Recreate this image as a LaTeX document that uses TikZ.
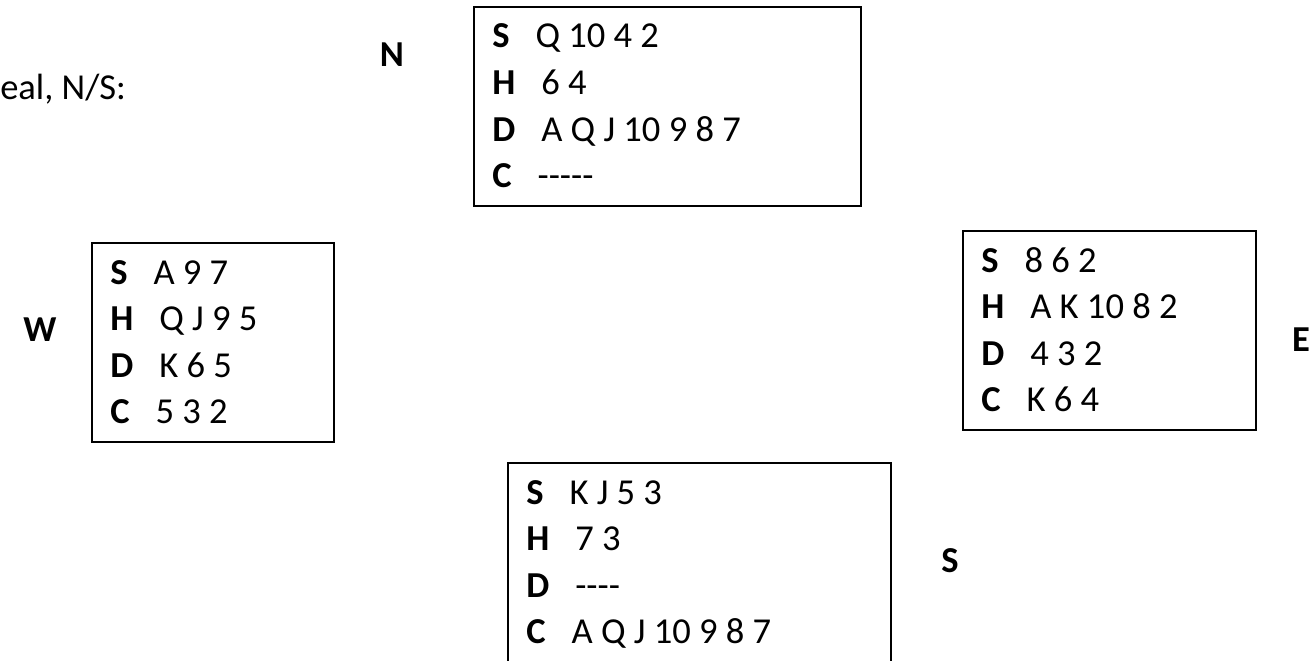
\documentclass[tikz,border=0pt]{standalone}
\usepackage{fontspec}
\setmainfont{Carlito}
\usetikzlibrary{calc}

\tikzset{
  handbox/.style={draw, line width=1.5pt, rectangle, inner sep=0pt, anchor=north west},
  cardline/.style={anchor=base west, inner sep=0pt, font=\fontsize{27.4pt}{34.5pt}\selectfont},
  seatlabel/.style={anchor=base, inner sep=0pt, font=\fontsize{27.4pt}{34.5pt}\selectfont\bfseries},
  plaintext/.style={anchor=base west, inner sep=0pt, font=\fontsize{27.4pt}{34.5pt}\selectfont},
}
% bold suit letter followed by a fixed gap before the cards
\newcommand\suitrow[1]{\textbf{#1}\hspace{19.5pt}}
% a run of separate hyphens (kept apart so they never join into dashes)
\newcommand\voidsuit[1]{\foreach \k in {1,...,#1}{\mbox{-}}}

% four suit lines inside a hand box
\newcommand\handlines[5]{%
  \node[cardline] (#1S) at ($(#1box.north west)+(19,42)$) {\suitrow{S}#2};
  \node[cardline] (#1H) at ($(#1S.base west)+(0,46.5)$) {\suitrow{H}#3};
  \node[cardline] (#1D) at ($(#1H.base west)+(0,46.5)$) {\suitrow{D}#4};
  \node[cardline] (#1C) at ($(#1D.base west)+(0,46.5)$) {\suitrow{C}#5};
}

\begin{document}
\begin{tikzpicture}[x=0.75pt,y=-0.75pt]
\useasboundingbox (0,0) rectangle (1312,660);
\fill[white] (0,0) rectangle (1312,660);

% heading
\node[plaintext] (deal) at (0,99) {eal, N/S:};

% seat labels
\node[seatlabel] (lblN) at (392,66) {N};
\node[seatlabel] (lblW) at (40,341) {W};
\node[seatlabel] (lblE) at (1301,351) {E};
\node[seatlabel] (lblS) at (950,572) {S};

% hand boxes
\node[handbox, minimum width=290.25pt, minimum height=149.25pt] (Nbox) at (473,6) {};
\node[handbox, minimum width=181.5pt,  minimum height=149.25pt] (Wbox) at (91,242) {};
\node[handbox, minimum width=219.75pt, minimum height=149.25pt] (Ebox) at (962,230) {};
\node[handbox, minimum width=287.25pt, minimum height=150.75pt] (Sbox) at (507,462) {};

% hands
\handlines{N}{Q 10 4 2}{6 4}{A Q J 10 9 8 7}{\voidsuit{5}}
\handlines{W}{A 9 7}{Q J 9 5}{K 6 5}{5 3 2}
\handlines{E}{8 6 2}{A K 10 8 2}{4 3 2}{K 6 4}
\handlines{S}{K J 5 3}{7 3}{\voidsuit{4}}{A Q J 10 9 8 7}
\end{tikzpicture}
\end{document}
